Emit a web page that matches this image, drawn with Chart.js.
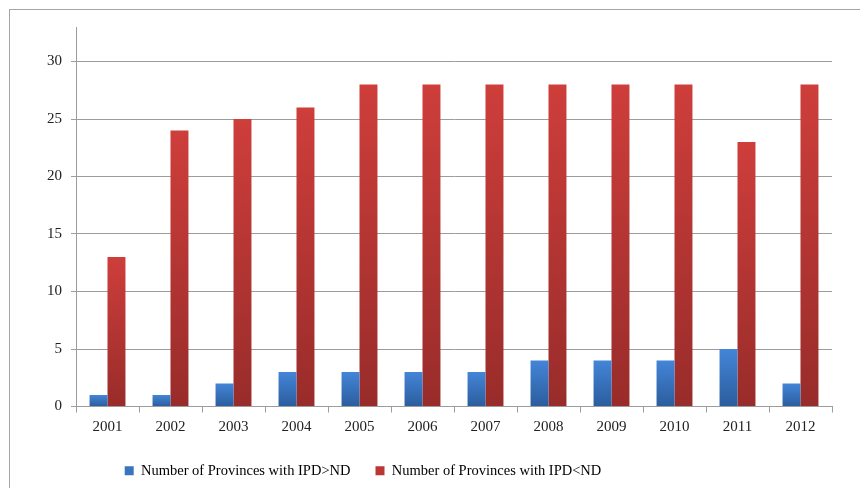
<!DOCTYPE html>
<html>
<head>
<meta charset="utf-8">
<script src="https://cdn.jsdelivr.net/npm/chart.js@4/dist/chart.umd.min.js"></script>
<style>
    html, body { margin: 0; padding: 0; background: #fff; overflow: hidden; }
    #wrap { position: relative; width: 860px; height: 488px; }
    #frame { position: absolute; left: 9px; top: 9px; width: 900px; height: 520px; border: 1px solid #a6a6a6; box-sizing: border-box; }
    canvas { position: absolute; left: 0; top: 0; }
</style>
</head>
<body>
<div id="wrap">
    <div id="frame"></div>
    <canvas id="chart" width="860" height="488"></canvas>
</div>
<script>
const years = ['2001', '2002', '2003', '2004', '2005', '2006', '2007', '2008', '2009', '2010', '2011', '2012'];
const aboveND = [1, 1, 2, 3, 3, 3, 3, 4, 4, 4, 5, 2];
const belowND = [13, 24, 25, 26, 28, 28, 28, 28, 28, 28, 23, 28];
const yTicks = [0, 5, 10, 15, 20, 25, 30];

// per-bar vertical gradient, light at the top, darker at the base
function barGradient(top, bottom) {
    return (context) => {
        const chart = context.chart;
        if (!chart.chartArea || context.type !== 'data') return top;
        const y = chart.scales.y;
        const y0 = y.getPixelForValue(0);
        const y1 = y.getPixelForValue(context.raw);
        if (!isFinite(y0) || !isFinite(y1) || y0 === y1) return top;
        const g = chart.ctx.createLinearGradient(0, y1, 0, y0);
        g.addColorStop(0, top);
        g.addColorStop(1, bottom);
        return g;
    };
}

// legend: a bit less vertical room, and nudged left of centre like the original
const legendTweak = {
    id: 'legendTweak',
    beforeInit(chart) {
        const lg = chart.legend;
        if (!lg) return;
        const fit = lg.fit;
        lg.fit = function () {
            fit.call(this);
            this.height -= 10;
        };
    },
    afterLayout(chart) {
        const lg = chart.legend;
        if (!lg) return;
        lg.left -= 72; lg.right -= 72;
        lg.top -= 4;
        lg.bottom = chart.height;
    }
};

const gridColor = '#9c9c9c';
const font = { family: '"Liberation Serif", "Times New Roman", serif', size: 15 };

new Chart(document.getElementById('chart'), {
    type: 'bar',
    data: {
        labels: years,
        datasets: [{
            label: 'Number of Provinces with IPD>ND',
            data: aboveND,
            backgroundColor: barGradient('#4485d8', '#2b5d9d'),
            borderWidth: 0
        }, {
            label: 'Number of Provinces with IPD<ND',
            data: belowND,
            backgroundColor: barGradient('#ce3e3b', '#982c2a'),
            borderWidth: 0
        }]
    },
    options: {
        responsive: false,
        animation: false,
        layout: { padding: { left: 38, right: 28, top: 27, bottom: 6 } },
        datasets: { bar: { barPercentage: 1, categoryPercentage: 0.57 } },
        scales: {
            x: {
                grid: { drawOnChartArea: false, drawTicks: true, tickLength: 6, color: gridColor },
                border: { color: gridColor },
                ticks: { color: '#222', font: font, padding: 6 }
            },
            y: {
                min: 0,
                max: 33,
                afterBuildTicks: (scale) => {
                    scale.ticks = yTicks.map(v => ({ value: v }));
                },
                grid: { color: gridColor, tickLength: 5 },
                border: { color: gridColor },
                ticks: { color: '#222', font: font, padding: 9 }
            }
        },
        plugins: {
            legend: {
                position: 'bottom',
                labels: {
                    color: '#111',
                    font: { family: font.family, size: 14.5 },
                    boxWidth: 9,
                    boxHeight: 9,
                    padding: 25,
                    generateLabels: (chart) => chart.data.datasets.map((ds, i) => ({
                        text: ds.label,
                        fillStyle: i === 0 ? '#3a74bf' : '#bb3634',
                        strokeStyle: 'transparent',
                        lineWidth: 0,
                        datasetIndex: i
                    }))
                }
            },
            tooltip: { enabled: false }
        }
    },
    plugins: [legendTweak]
});
</script>
</body>
</html>
